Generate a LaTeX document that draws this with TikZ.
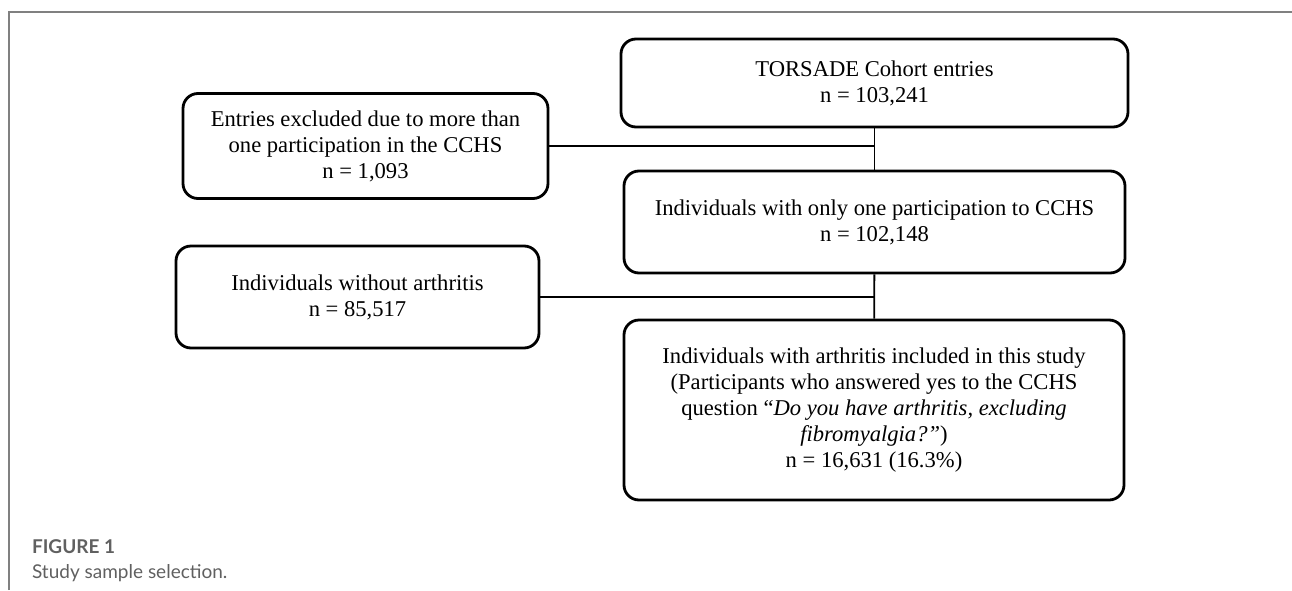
\documentclass[tikz,border=0pt]{standalone}
\usepackage{fontspec}
\setmainfont{Liberation Serif}
\newfontfamily\capfont{Lato}
\usepackage{xcolor}
\usepackage{tikz}

\definecolor{capgray}{HTML}{606060}
\definecolor{framegray}{HTML}{808080}

\begin{document}
\begin{tikzpicture}[x=0.5pt, y=-0.5pt,
    flowbox/.style = {draw, line width=1.4pt, rounded corners=7.5pt, align=center,
      inner sep=0pt, font=\fontsize{11.3}{13}\selectfont},
    link/.style = {line width=0.9pt}]
    \useasboundingbox (0, 0) rectangle (1292, 590);
    \draw[framegray, line width=0.6pt] (9, 590) -- (9, 12) -- (1292, 12);
    {
      \node[flowbox, minimum width=253.5pt, minimum height=44pt] (cohort) at (874.5, 83)
        {TORSADE Cohort entries\\n = 103,241};
      \node[flowbox, minimum width=250.5pt, minimum height=51pt] (single) at (874.5, 222)
        {Individuals with only one participation to CCHS\\n = 102,148};
      \node[flowbox, minimum width=250pt, minimum height=90pt] (incl) at (874, 410)
        {Individuals with arthritis included in this study\\
         (Participants who answered yes to the CCHS\\
         question ``\textit{Do you have arthritis, excluding}\\
         \textit{fibromyalgia?''})\\
         n = 16,631 (16.3\%)};
    }
    {
      \node[flowbox, minimum width=182.5pt, minimum height=52.5pt] (excl) at (365.5, 146)
        {Entries excluded due to more than\\one participation in the CCHS\\n = 1,093};
      \node[flowbox, minimum width=181.5pt, minimum height=51pt] (noarth) at (357.5, 297)
        {Individuals without arthritis\\n = 85,517};
    }
    \draw[link] (cohort) -- (single);
    \draw[link] (single) -- (incl);
    \draw[link] (excl) -- (excl -| cohort);
    \draw[link] (noarth) -- (noarth -| single);
    \node[anchor=base west, text=capgray, font=\capfont\bfseries\fontsize{9.5}{11}\selectfont] (fignum) at (25, 553) {FIGURE 1};
    \node[anchor=base west, text=capgray, font=\capfont\fontsize{9.5}{11}\selectfont] (figcap) at (25, 578) {Study sample selection.};
  \end{tikzpicture}
\end{document}
